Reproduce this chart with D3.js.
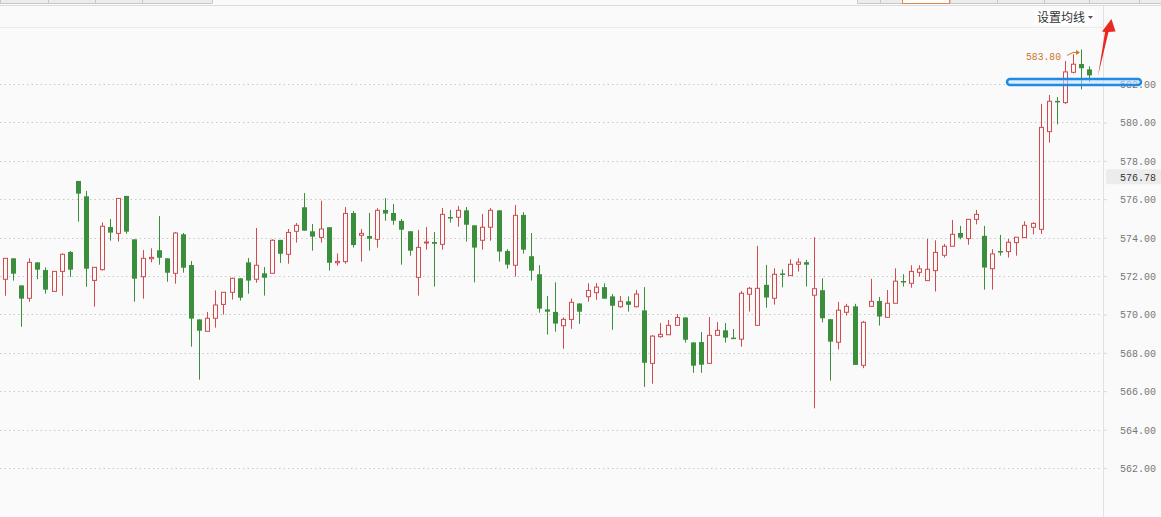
<!DOCTYPE html>
<html><head><meta charset="utf-8">
<script src="https://cdn.jsdelivr.net/npm/d3@7/dist/d3.min.js"></script>
<style>html,body{margin:0;padding:0;background:#fafafa;overflow:hidden}svg{display:block}</style>
</head><body><svg id="c" width="1161" height="517"></svg>
<script>
const opens = [571.83,572.92,571.51,570.84,572.71,572.31,571.20,572.24,573.25,576.95,576.15,571.77,572.33,574.55,574.22,576.17,573.91,571.96,572.90,573.34,572.92,572.14,574.17,572.57,569.74,569.12,569.80,570.52,571.15,571.88,572.71,571.83,572.14,572.14,573.88,573.13,574.33,575.58,574.33,574.01,574.54,572.69,572.75,575.28,574.12,574.08,573.91,575.44,575.28,574.87,574.33,571.93,573.74,573.77,573.65,575.07,575.06,575.42,574.64,573.86,574.54,575.42,573.30,572.56,575.18,573.03,572.09,570.26,570.13,569.41,569.74,570.57,570.92,571.13,571.42,570.94,570.40,570.68,570.40,570.21,567.45,568.84,568.94,569.43,569.84,568.54,568.56,567.45,568.91,569.17,568.79,568.71,571.05,569.43,571.54,570.84,572.13,572.02,572.61,572.72,571.00,571.26,569.75,568.55,570.11,570.42,567.35,570.42,570.70,569.85,570.58,571.74,571.62,572.19,571.76,572.28,573.08,573.55,574.24,573.95,574.95,574.09,572.38,573.30,573.27,573.74,574.00,574.54,574.43,579.52,581.12,581.03,582.61,583.04,582.76];
const highs = [572.92,572.92,571.51,572.92,572.71,572.45,572.24,573.18,573.30,576.95,576.43,572.45,574.79,574.97,576.04,576.17,573.91,573.35,573.44,575.12,572.92,574.29,574.24,572.78,569.74,570.13,571.25,571.15,571.91,571.88,572.94,574.50,572.47,573.91,573.88,574.45,574.76,576.32,574.71,575.92,574.54,573.18,575.59,575.39,574.45,575.28,575.53,576.06,575.75,574.97,574.33,574.40,574.55,574.29,575.54,575.44,575.65,575.59,574.64,575.23,575.54,575.42,573.39,575.70,575.32,574.24,572.56,570.96,571.67,569.84,570.83,570.57,571.62,571.63,571.62,571.06,570.96,570.94,571.27,571.42,568.92,569.55,569.71,570.02,569.84,568.54,569.08,569.86,569.60,569.55,569.24,571.22,571.43,573.57,572.58,572.40,572.35,572.87,572.92,572.84,574.02,571.88,569.75,570.65,570.55,570.55,569.66,571.85,570.91,571.27,572.40,572.09,572.56,572.56,573.93,573.86,573.67,574.92,574.61,574.95,575.44,574.61,573.39,574.14,573.93,574.02,574.85,574.80,580.96,581.43,581.32,583.20,583.55,583.80,582.92];
const lows = [570.97,571.76,569.36,570.66,571.83,571.08,571.20,570.97,571.95,574.83,571.44,570.40,572.28,573.84,573.79,574.20,570.66,570.82,572.71,572.59,571.70,571.60,572.17,568.32,566.60,569.12,569.31,569.99,570.77,570.72,571.08,571.65,570.98,572.14,572.68,572.64,573.74,574.36,573.32,573.74,572.28,572.54,572.64,573.48,572.75,573.32,573.48,574.88,574.67,572.59,573.06,570.98,573.37,571.45,573.37,574.78,574.57,573.79,571.67,573.37,573.84,572.75,572.38,571.97,573.16,571.76,570.09,568.95,569.10,568.21,569.25,569.51,570.66,570.76,570.82,569.20,570.35,570.14,570.37,566.23,566.39,568.79,568.94,569.43,568.53,566.96,566.96,567.45,568.91,568.53,568.72,568.32,570.15,569.43,570.35,570.51,571.41,572.02,572.23,571.45,565.11,569.59,566.55,568.18,569.94,567.37,567.20,570.42,569.42,569.85,570.58,571.45,571.39,571.97,571.76,571.19,572.96,573.55,573.91,573.63,574.69,571.29,571.29,573.06,572.96,573.06,574.00,574.17,574.19,578.95,579.90,580.96,582.55,581.72,582.10];
const closes = [572.92,572.12,570.82,572.71,572.33,571.29,572.24,573.13,572.33,576.29,572.38,572.45,574.59,574.26,576.04,574.31,571.86,572.92,572.97,572.95,572.17,574.24,572.43,569.78,569.15,569.80,570.49,571.15,571.88,570.87,571.76,572.56,571.91,573.86,573.16,574.27,574.64,574.36,574.05,574.45,572.69,572.76,575.26,573.61,574.22,573.94,575.42,575.25,574.88,574.41,573.32,573.49,573.77,573.68,575.21,575.04,575.42,574.67,573.48,574.54,575.42,573.27,572.59,575.16,573.37,572.28,570.30,570.14,569.52,569.74,570.63,570.14,571.25,571.42,570.82,570.45,570.68,570.50,571.06,567.48,568.87,568.96,569.43,569.84,568.68,567.33,567.38,568.91,569.17,568.79,568.72,571.10,571.36,571.36,570.88,572.09,572.07,572.61,572.72,572.59,571.34,569.80,568.58,570.22,570.42,567.37,569.59,570.68,569.89,570.58,571.73,571.67,572.24,572.37,572.35,573.23,573.55,574.17,574.00,574.95,575.21,572.44,573.15,573.27,573.76,574.02,574.64,574.74,579.74,581.10,581.08,582.63,583.03,582.82,582.45];
const yTicks = [562,564,566,568,570,572,574,576,578,580,582];
const maxLabel = 583.80;
const markLabel = 576.78;
const menuText = "设置均线";

const W = 1161, H = 517;
const svg = d3.select("#c");
const RED = "#d04a4e", GREEN = "#3a8e3c", BG = "#fafafa";
const MONO = "Liberation Mono, DejaVu Sans Mono, monospace";

const x = d3.scaleBand().domain(d3.range(opens.length)).range([1, 1093.2]).padding(0);
const y = d3.scaleLinear().domain([562, 582]).range([468, 84]);

// top chrome
const chrome = svg.append("g");
chrome.append("rect").attr("x",0).attr("y",0).attr("width",212).attr("height",3.5).attr("fill","#ececec");
chrome.append("rect").attr("x",857).attr("y",0).attr("width",304).attr("height",3.5).attr("fill","#ececec");
[0,48,95,142,212,857,880,902,950,997,1044,1089,1139].forEach(v=>chrome.append("line").attr("x1",v+0.5).attr("x2",v+0.5).attr("y1",0).attr("y2",3.5).attr("stroke","#c8c8c8"));
chrome.append("line").attr("x1",0).attr("x2",212).attr("y1",3.5).attr("y2",3.5).attr("stroke","#c8c8c8");
chrome.append("line").attr("x1",857).attr("x2",W).attr("y1",3.5).attr("y2",3.5).attr("stroke","#c8c8c8");
chrome.append("rect").attr("x",902.5).attr("y",-1).attr("width",47).attr("height",4.5).attr("fill","#fff").attr("stroke","#e08a4a");
chrome.append("line").attr("x1",0).attr("x2",W).attr("y1",5.5).attr("y2",5.5).attr("stroke","#dcdcdc");
chrome.append("line").attr("x1",0).attr("x2",1104).attr("y1",27.5).attr("y2",27.5).attr("stroke","#ececec");
chrome.append("line").attr("x1",1103.5).attr("x2",1103.5).attr("y1",6).attr("y2",H).attr("stroke","#e2e2e2");
chrome.append("rect").attr("x",1035).attr("y",10).attr("width",60).attr("height",15).attr("fill","#fff");
chrome.append("text").attr("x",1037).attr("y",22).attr("font-family","Noto Sans CJK SC").attr("font-size",12).attr("fill","#333").text(menuText);
chrome.append("path").attr("d","M1088,16 L1093,16 L1090.5,19 Z").attr("fill","#555");

// grid
const grid = svg.append("g");
yTicks.forEach(t=>{
  const yy = Math.round(y(t))+0.5;
  grid.append("line").attr("x1",0).attr("x2",1101).attr("y1",yy).attr("y2",yy)
    .attr("stroke","#c9c9c9").attr("stroke-dasharray","1.5,3");
});

// axis
const axis = svg.append("g").attr("transform","translate(1104,0)")
  .call(d3.axisRight(y).tickValues(yTicks).tickSize(3).tickPadding(13).tickFormat(d3.format(".2f")));
axis.select(".domain").remove();
axis.selectAll(".tick line").attr("stroke","#d8d8d8");
axis.selectAll(".tick text").attr("fill","#777").attr("font-family",MONO)
  .attr("font-size",11).attr("textLength",36).attr("lengthAdjust","spacingAndGlyphs");

// marker label
const my = y(markLabel) - 7.5;
svg.append("rect").attr("x",1106).attr("y",my-7.5).attr("width",55).attr("height",15).attr("rx",2).attr("fill","#ececec");
svg.append("text").attr("x",1120).attr("y",my).attr("dy","0.35em").attr("fill","#333")
  .attr("font-family",MONO).attr("font-size",11)
  .attr("textLength",36).attr("lengthAdjust","spacingAndGlyphs").text(markLabel.toFixed(2));

// candles
const cg = svg.append("g");
opens.forEach((o,i)=>{
  const c = closes[i], h = highs[i], l = lows[i];
  const cx = Math.round(x(i) + x.bandwidth()/2);
  const up = c >= o;
  const col = up ? RED : GREEN;
  cg.append("line").attr("x1",cx+0.5).attr("x2",cx+0.5).attr("y1",y(h)).attr("y2",y(l)).attr("stroke",col).attr("stroke-width",1);
  const yt = y(Math.max(o,c)), yb = y(Math.min(o,c));
  if (up) {
    cg.append("rect").attr("x",cx-1.5).attr("y",yt).attr("width",4).attr("height",Math.max(1,yb-yt))
      .attr("fill",BG).attr("stroke",col).attr("stroke-width",1);
  } else {
    cg.append("rect").attr("x",cx-2).attr("y",yt).attr("width",5).attr("height",Math.max(1.5,yb-yt)).attr("fill",col);
  }
});

// max annotation
const mi = highs.indexOf(d3.max(highs));
const mx = Math.round(x(mi) + x.bandwidth()/2);
const myy = y(maxLabel);
const ORANGE = "#c9782e";
svg.append("text").attr("x",mx-55).attr("y",myy+7).attr("dy","0.35em").attr("fill",ORANGE)
  .attr("font-family",MONO).attr("font-size",11)
  .attr("textLength",35).attr("lengthAdjust","spacingAndGlyphs").text(maxLabel.toFixed(2));
svg.append("path").attr("d",`M${mx-14},${myy+6} L${mx-8},${myy+3} L${mx-3},${myy+3}`).attr("fill","none").attr("stroke",ORANGE);
svg.append("path").attr("d",`M${mx-1},${myy+3} L${mx-5},${myy+0.5} L${mx-5},${myy+5.5} Z`).attr("fill",ORANGE);

// blue highlight
const by = y(582) - 2;
svg.append("rect").attr("x",1007).attr("y",by-3).attr("width",134).attr("height",6).attr("rx",3)
  .attr("fill","rgba(200,228,255,0.55)").attr("stroke","#1f8be6").attr("stroke-width",2.5);

// red arrow
svg.append("path").attr("d","M1098,76 L1105,32 L1102,31.5 L1111.5,19 L1115.5,31.5 L1108.5,32 Z").attr("fill","#ea2a20");
</script></body></html>
